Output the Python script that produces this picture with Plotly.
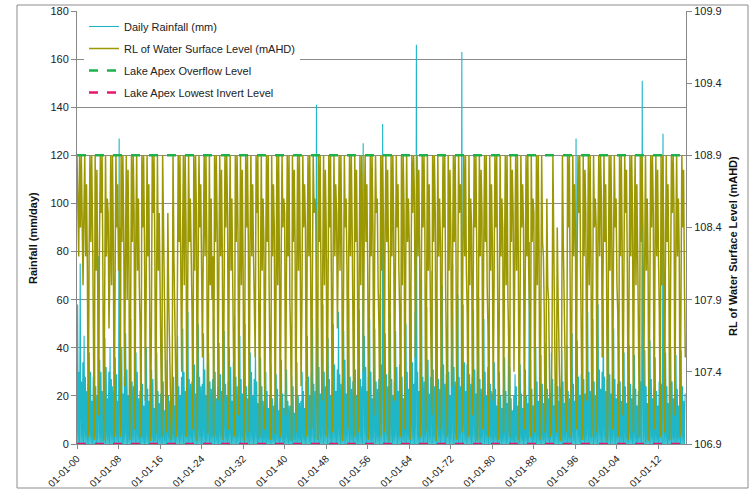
import pandas as pd
import plotly.graph_objects as go

# ---------------- data ----------------
# Peak daily rainfall (mm) within each quarter, 1900 Q1 .. 2017 Q1 (groups of 4 per year)
RAIN_PEAKS = [
    58, 30, 75, 26,   34, 45, 28, 22,   25, 38, 30, 18,   28, 42, 24, 20,
    78, 35, 30, 22,   26, 44, 32, 19,   30, 40, 27, 24,   22, 36, 29, 18,
    127, 33, 40, 21,  28, 46, 31, 20,   35, 52, 26, 24,   76, 38, 30, 19,
    22, 34, 25, 16,   20, 40, 23, 18,   24, 31, 27, 15,   18, 38, 22, 17,
    21, 42, 26, 14,   26, 35, 20, 18,   19, 33, 28, 16,   23, 45, 24, 20,
    28, 48, 30, 22,   32, 55, 27, 25,   26, 44, 33, 21,   30, 50, 28, 24,
    25, 46, 31, 20,   33, 38, 26, 23,   27, 52, 30, 19,   24, 42, 29, 22,
    30, 47, 25, 20,   26, 40, 32, 18,   34, 53, 28, 24,   22, 45, 27, 21,
    29, 50, 24, 19,   25, 38, 30, 20,   27, 43, 26, 17,   21, 36, 24, 18,
    18, 30, 22, 15,   20, 33, 19, 16,   17, 29, 23, 14,   19, 35, 21, 15,
    22, 31, 18, 16,   16, 28, 24, 13,   20, 34, 20, 17,   18, 30, 22, 15,
    26, 45, 28, 20,   30, 52, 25, 22,   141, 48, 32, 21,  28, 58, 30, 24,
    77, 44, 27, 20,   25, 50, 33, 22,   31, 55, 29, 25,   27, 47, 35, 21,
    33, 60, 28, 23,   26, 49, 31, 20,   30, 56, 27, 24,   125, 45, 32, 22,
    28, 52, 30, 19,   32, 48, 26, 23,   27, 62, 33, 133,  30, 46, 29, 24,
    30, 54, 27, 20,   26, 47, 32, 22,   33, 58, 28, 19,   29, 50, 30, 23,
    31, 60, 34, 25,   55, 166, 30, 22,  34, 68, 28, 26,   30, 57, 35, 21,
    28, 72, 31, 24,   35, 60, 27, 23,   32, 66, 33, 25,   29, 54, 30, 20,
    36, 75, 32, 26,   31, 62, 28, 24,   163, 58, 34, 22,  33, 64, 29, 25,
    28, 56, 31, 21,   30, 61, 27, 23,   26, 52, 30, 20,   32, 48, 25, 22,
    21, 34, 23, 16,   19, 30, 20, 15,   23, 36, 22, 17,   51, 32, 19, 14,
    20, 29, 24, 16,   18, 33, 21, 15,   22, 31, 20, 17,   84, 35, 23, 16,
    24, 40, 26, 18,   22, 37, 25, 17,   26, 42, 23, 19,   21, 38, 27, 16,
    25, 44, 24, 18,   23, 39, 26, 17,   27, 41, 22, 19,   24, 46, 25, 18,
    127, 43, 28, 20,  29, 50, 27, 21,   31, 55, 30, 22,   28, 52, 26, 20,
    33, 58, 31, 23,   30, 60, 28, 22,   27, 54, 29, 21,   29, 48, 27, 19,
    25, 42, 26, 18,   23, 38, 24, 17,   26, 41, 25, 19,   24, 37, 23, 16,
    22, 40, 26, 151,  25, 39, 24, 17,   25, 43, 27, 19,   23, 36, 22, 16,
    26, 41, 25, 129,  24, 38, 24, 17,   24, 40, 26, 19,   22, 37, 23, 16,
    25, 39, 24, 18,
    21,
]

# Water surface level (mAHD), every two months from Jan 1900 (one row of 6 per year)
WATER_LEVEL = [
    108.9, 108.5, 108.2, 108.9, 108.4, 108.9,   108.3, 108.0, 108.5, 108.9, 108.2, 108.7,
    108.1, 106.95, 108.2, 108.9, 108.3, 108.9,  108.4, 107.6, 106.93, 108.9, 108.1, 108.8,
    108.2, 107.1, 108.3, 108.9, 108.5, 108.9,   108.0, 106.92, 107.9, 108.9, 108.2, 108.6,
    108.5, 107.7, 108.1, 108.9, 108.0, 108.9,   108.3, 106.95, 108.0, 108.9, 108.4, 108.7,
    108.1, 108.4, 106.95, 108.9, 108.3, 108.9,  108.4, 107.3, 108.2, 108.9, 107.9, 108.8,
    108.2, 106.93, 107.8, 108.9, 108.3, 108.9,  108.5, 107.0, 108.3, 108.9, 108.1, 108.6,
    108.0, 107.7, 106.95, 108.9, 108.4, 108.9,  108.3, 107.2, 108.0, 108.9, 108.2, 108.7,
    107.9, 106.92, 107.7, 108.9, 108.5, 108.9,  108.2, 106.97, 108.0, 108.9, 108.1, 108.5,
    108.0, 107.4, 106.95, 108.9, 108.3, 108.2,  107.6, 106.98, 107.3, 108.5, 107.9, 107.5,
    107.1, 106.93, 107.2, 108.9, 108.2, 107.9,  107.4, 106.95, 107.9, 108.9, 108.3, 108.9,
    108.1, 107.4, 108.3, 108.9, 108.0, 108.9,   108.4, 106.95, 108.0, 108.9, 108.3, 108.6,
    108.2, 107.8, 107.0, 108.9, 108.1, 108.9,   108.5, 106.92, 108.1, 108.9, 108.4, 108.7,
    108.1, 107.5, 108.3, 108.9, 108.2, 108.9,   108.3, 106.97, 107.8, 108.9, 108.0, 108.6,
    107.9, 108.2, 106.95, 108.9, 108.3, 108.9,  108.4, 107.2, 108.1, 108.9, 108.2, 108.8,
    108.2, 106.93, 107.9, 108.9, 108.4, 108.9,  108.5, 107.0, 108.2, 108.9, 108.1, 108.6,
    108.0, 107.6, 106.95, 108.9, 108.3, 108.9,  108.4, 107.1, 108.2, 108.9, 108.0, 108.8,
    108.1, 106.92, 107.8, 108.9, 108.4, 108.9,  108.3, 106.98, 108.3, 108.9, 108.2, 108.7,
    108.2, 107.7, 107.5, 108.9, 108.5, 108.9,   107.9, 106.95, 108.0, 108.9, 108.1, 108.6,
    108.3, 107.0, 108.1, 108.9, 108.3, 108.9,   108.0, 107.5, 106.93, 108.9, 108.2, 108.7,
    108.4, 106.97, 107.9, 108.9, 108.0, 108.9,  108.1, 106.95, 108.2, 108.9, 108.4, 108.6,
    108.5, 107.1, 108.0, 108.9, 108.2, 108.9,   107.9, 107.6, 106.92, 108.9, 108.3, 108.8,
    108.3, 106.98, 108.1, 108.9, 108.1, 108.9,  108.2, 107.3, 107.9, 108.9, 108.4, 108.7,
    108.4, 106.95, 108.2, 108.9, 108.2, 108.9,  108.1, 107.0, 108.0, 108.9, 108.5, 108.6,
    108.5, 107.9, 106.93, 108.9, 108.3, 108.9,  108.2, 107.2, 108.1, 108.9, 108.0, 108.8,
    108.4, 106.95, 107.8, 108.9, 108.4, 108.9,  108.0, 106.98, 108.2, 108.9, 108.2, 108.7,
    108.5, 107.7, 108.3, 108.9, 108.1, 108.9,   108.3, 106.92, 107.9, 108.9, 108.4, 108.6,
    108.1, 107.0, 108.2, 108.9, 108.2, 108.9,   108.4, 107.8, 106.95, 108.9, 108.3, 108.8,
    108.2, 106.98, 108.1, 108.9, 108.0, 108.9,  108.5, 107.4, 108.4, 108.9, 108.3, 108.7,
    108.1, 106.93, 107.9, 108.9, 108.2, 108.9,  108.4, 107.1, 108.2, 108.9, 108.5, 108.6,
    108.0, 107.7, 106.95, 108.9, 108.1, 108.9,  108.5, 106.98, 108.3, 108.9, 108.3, 108.8,
    108.2, 106.92, 107.9, 108.9, 108.2, 108.9,  108.4, 107.2, 108.1, 108.9, 108.4, 108.7,
    108.1, 107.8, 106.95, 108.9, 108.0, 108.9,  108.5, 107.0, 108.2, 108.9, 108.3, 108.6,
    108.3, 106.93, 108.0, 108.9, 108.5, 108.9,  108.6, 107.5, 108.3, 108.9, 108.2, 108.8,
    108.2, 106.95, 108.1, 108.9, 108.4, 108.9,  108.4, 106.98, 107.9, 108.9, 108.1, 108.7,
    108.1, 107.7, 107.1, 108.9, 108.3, 108.9,   108.5, 106.92, 108.0, 108.9, 108.2, 108.6,
    108.3, 107.0, 108.1, 108.9, 108.4, 108.9,   108.0, 107.6, 106.95, 108.9, 108.1, 108.8,
    108.4, 107.3, 108.2, 108.9, 108.3, 108.9,   108.2, 106.93, 107.9, 108.9, 108.5, 108.7,
    108.5, 106.98, 108.3, 108.9, 108.2, 108.9,  108.1, 107.8, 106.95, 108.9, 108.0, 108.6,
    108.4, 107.1, 108.1, 108.9, 108.4, 108.9,   108.2, 106.92, 107.9, 108.9, 108.2, 108.8,
    108.5, 107.0, 108.2, 108.9, 108.3, 108.9,   108.0, 107.7, 106.95, 108.9, 108.1, 108.7,
    108.3, 107.2, 108.0, 108.9, 108.4, 108.9,   108.1, 106.93, 107.8, 108.9, 108.2, 108.6,
    108.4, 106.98, 108.1, 108.9, 108.0, 108.9,  107.9, 107.6, 106.95, 108.9, 108.3, 108.8,
    108.5, 107.4, 108.2, 108.9, 108.1, 108.9,   108.2, 106.92, 107.8, 108.9, 108.4, 108.7,
    108.4, 107.0, 108.0, 108.9, 108.2, 108.9,   108.1, 107.8, 106.95, 108.9, 108.3, 108.6,
    108.5, 106.98, 107.9, 108.9, 108.0, 108.9,  108.2, 106.93, 107.7, 108.9, 108.3, 108.2,
    107.8, 106.98, 107.3, 108.6, 108.0, 107.9,  107.4, 106.95, 107.1, 107.6, 108.9, 108.2,
    107.7, 107.1, 106.98, 108.4, 107.9, 107.6,  107.2, 106.92, 107.4, 108.9, 108.3, 108.0,
    107.5, 106.98, 107.2, 108.9, 108.4, 108.9,  108.1, 106.95, 107.9, 108.9, 108.2, 108.7,
    108.4, 107.0, 108.2, 108.9, 108.5, 108.9,   108.1, 107.7, 106.93, 108.9, 108.2, 108.8,
    108.5, 107.2, 108.1, 108.9, 108.0, 108.9,   108.2, 106.95, 107.9, 108.9, 108.4, 108.6,
    108.4, 106.98, 108.3, 108.9, 108.2, 108.9,  108.6, 107.5, 108.1, 108.9, 108.3, 108.7,
    108.1, 106.92, 107.9, 108.9, 108.1, 108.9,  108.4, 107.0, 108.2, 108.9, 108.4, 108.6,
    108.0, 107.8, 106.95, 108.9, 108.2, 108.9,  108.3, 107.1, 108.0, 108.9, 108.5, 108.8,
    108.1, 106.93, 107.9, 108.9, 108.2, 108.9,  108.5, 106.98, 108.2, 108.9, 108.0, 108.7,
    108.2, 107.7, 106.95, 108.9, 108.3, 108.9,  108.4, 107.3, 108.1, 108.9, 108.1, 108.6,
    108.1, 106.92, 107.9, 108.9, 108.4, 108.9,  108.5, 107.0, 108.2, 108.9, 108.2, 108.8,
    108.2, 107.8, 106.95, 108.9, 108.0, 108.9,  108.4, 106.98, 108.1, 108.9, 108.3, 108.7,
    108.1, 106.93, 108.0, 108.9, 108.5, 108.9,  108.5, 107.1, 108.2, 108.9, 108.2, 108.6,
    108.2, 106.95, 107.9, 108.9, 108.4, 108.8,
    108.0, 107.5,
]

OVERFLOW_LEVEL = 108.9
INVERT_LEVEL = 106.9
START_DATE = "1900-01-01"
END_DATE = "2017-04-20"

LEFT_TICKS = [0, 20, 40, 60, 80, 100, 120, 140, 160, 180]
RIGHT_TICKS = [106.9, 107.4, 107.9, 108.4, 108.9, 109.4, 109.9]

# ---------------- build series ----------------
rain_quarters = pd.date_range(START_DATE, periods=len(RAIN_PEAKS), freq="QS")
rain_x, rain_y = [], []
for d, v in zip(rain_quarters, RAIN_PEAKS):
    rain_x += [d, d + pd.Timedelta(days=45)]
    rain_y += [0, v]
level_dates = pd.date_range(START_DATE, periods=len(WATER_LEVEL), freq="2MS")

CYAN = "#1fb6c8"
OLIVE = "#9c9804"
GREEN = "#1db34a"
MAGENTA = "#e5176f"
FONT = "Liberation Sans, Arial, sans-serif"

fig = go.Figure()
fig.add_trace(go.Scatter(x=rain_x, y=rain_y, mode="lines", name="Daily Rainfall (mm)",
                         line=dict(color=CYAN, width=1.1), legendgroup="a"))
fig.add_trace(go.Scatter(x=level_dates, y=WATER_LEVEL, mode="lines", yaxis="y2",
                         name="RL of Water Surface Level (mAHD)",
                         line=dict(color=OLIVE, width=1.5), legendgroup="b"))
fig.add_trace(go.Scatter(x=[START_DATE, END_DATE], y=[OVERFLOW_LEVEL] * 2, mode="lines", yaxis="y2",
                         name="Lake Apex Overflow Level",
                         line=dict(color=GREEN, width=2.5, dash="dash"), legendgroup="c"))
fig.add_trace(go.Scatter(x=[START_DATE, END_DATE], y=[INVERT_LEVEL] * 2, mode="lines", yaxis="y2",
                         name="Lake Apex Lowest Invert Level",
                         line=dict(color=MAGENTA, width=2.5, dash="dash"), legendgroup="d"))

L, R, T, B = 77, 70, 11, 47
W, H = 756, 491
pw, ph = W - L - R, H - T - B

def px_x(px):
    return (px - L) / pw

def px_y(py):
    return (H - B - py) / ph

fig.update_layout(
    width=W, height=H,
    margin=dict(l=L, r=R, t=T, b=B, pad=0, autoexpand=False),
    paper_bgcolor="white", plot_bgcolor="white",
    font=dict(family=FONT, size=11, color="#222222"),
    showlegend=True,
    legend=dict(x=px_x(84), y=px_y(12), xanchor="left", yanchor="top",
                bgcolor="white", borderwidth=0, font=dict(size=11, color="#222222"),
                traceorder="grouped", tracegroupgap=3, itemwidth=30),
    xaxis=dict(type="date", range=[START_DATE, END_DATE], tick0=START_DATE, dtick="M96",
               tickformat="%d-%m-%y", tickangle=-45, ticks="outside", ticklen=4,
               tickcolor="#888888", showgrid=False, showline=True, linecolor="#888888",
               tickfont=dict(size=10, color="#222222"), zeroline=False, automargin=False),
    yaxis=dict(range=[0, 180], tickvals=LEFT_TICKS, ticks="outside", ticklen=5,
               tickcolor="#888888", showgrid=True, gridcolor="#8a8a8a", gridwidth=1,
               showline=True, linecolor="#888888", zeroline=False, automargin=False,
               tickfont=dict(size=11, color="#222222")),
    yaxis2=dict(range=[106.9, 109.9], tickvals=RIGHT_TICKS, overlaying="y", side="right",
                ticks="outside", ticklen=5, tickcolor="#888888", showgrid=False,
                showline=True, linecolor="#888888", zeroline=False, automargin=False,
                tickformat=".1f", tickfont=dict(size=11, color="#222222")),
    annotations=[
        dict(text="<b>Rainfall (mm/day)</b>", x=px_x(33), y=px_y(238), xref="paper", yref="paper",
             xanchor="center", yanchor="middle",
             textangle=-90, showarrow=False, font=dict(size=11, color="#111111")),
        dict(text="<b>RL of Water Surface Level (mAHD)</b>", x=px_x(733), y=px_y(246),
             xref="paper", yref="paper", xanchor="center", yanchor="middle",
             textangle=-90, showarrow=False, font=dict(size=11, color="#111111")),
    ],
    shapes=[
        dict(type="rect", xref="paper", yref="paper", x0=px_x(17), x1=px_x(748),
             y0=px_y(488), y1=px_y(5), line=dict(color="#8c8c8c", width=1), layer="below"),
    ],
)

fig.write_html("out.html", config={"displayModeBar": False},
               post_script="document.body.style.margin='0';")
